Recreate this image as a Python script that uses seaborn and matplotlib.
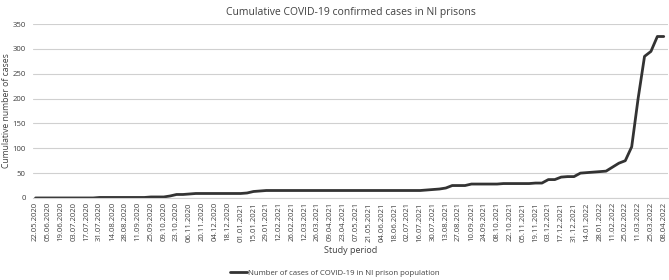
import numpy as np
import matplotlib
matplotlib.use('Agg')
import matplotlib.pyplot as plt
import pandas as pd
import seaborn as sns

# fortnightly tick labels on the x axis
tick_labels = [
    '22.05.2020', '05.06.2020', '19.06.2020', '03.07.2020', '17.07.2020',
    '31.07.2020', '14.08.2020', '28.08.2020', '11.09.2020', '25.09.2020',
    '09.10.2020', '23.10.2020', '06.11.2020', '20.11.2020', '04.12.2020',
    '18.12.2020', '01.01.2021', '15.01.2021', '29.01.2021', '12.02.2021',
    '26.02.2021', '12.03.2021', '26.03.2021', '09.04.2021', '23.04.2021',
    '07.05.2021', '21.05.2021', '04.06.2021', '18.06.2021', '02.07.2021',
    '16.07.2021', '30.07.2021', '13.08.2021', '27.08.2021', '10.09.2021',
    '24.09.2021', '08.10.2021', '22.10.2021', '05.11.2021', '19.11.2021',
    '03.12.2021', '17.12.2021', '31.12.2021', '14.01.2022', '28.01.2022',
    '11.02.2022', '25.02.2022', '11.03.2022', '25.03.2022', '08.04.2022',
]

# weekly cumulative cases
cases = [
    0, 0, 0, 0, 0, 0, 0, 0, 0, 0,
    1, 1, 1, 1, 1, 1, 1, 1, 2, 2,
    2, 4, 7, 7, 8, 9, 9, 9, 9, 9,
    9, 9, 9, 10, 13, 14, 15, 15, 15, 15,
    15, 15, 15, 15, 15, 15, 15, 15, 15, 15,
    15, 15, 15, 15, 15, 15, 15, 15, 15, 15,
    15, 16, 17, 18, 20, 25, 25, 25, 28, 28,
    28, 28, 28, 29, 29, 29, 29, 29, 30, 30,
    37, 37, 42, 43, 43, 50, 51, 52, 53, 54,
    62, 70, 75, 103, 200, 285, 295, 325, 325,
]

series_name = 'Number of cases of COVID-19 in NI prison population'

weeks = pd.date_range('2020-05-22', periods=len(cases), freq='7D')
df = pd.DataFrame({'week': weeks, 'cases': cases})
tick_dates = pd.to_datetime(tick_labels, format='%d.%m.%Y')

sns.set_theme(style='white')
plt.rcParams['font.family'] = ['Open Sans', 'DejaVu Sans']

fig = plt.figure(figsize=(6.69, 2.80), dpi=100)
ax = fig.add_axes([0.049, 0.293, 0.950, 0.621])

sns.lineplot(data=df, x='week', y='cases', ax=ax, color='#333333',
             linewidth=2.0, label=series_name, legend=False)

ax.set_ylim(0, 350)
ax.set_yticks(np.arange(0, 351, 50))
ax.set_xlim(weeks[0] - pd.Timedelta(days=3), weeks[-1] + pd.Timedelta(days=5))
ax.set_xticks(tick_dates)
ax.set_xticklabels(tick_labels, rotation=90, fontsize=5.6, color='#404040')
ax.tick_params(axis='y', labelsize=5.6, colors='#404040', length=0, pad=5)
ax.tick_params(axis='x', length=0, pad=3)
ax.grid(axis='y', color='#d0d0d0', linewidth=0.8)
ax.set_axisbelow(True)
for s in ['top', 'right', 'left']:
    ax.spines[s].set_visible(False)
ax.spines['bottom'].set_color('#d0d0d0')
ax.spines['bottom'].set_linewidth(0.8)

ax.set_xlabel('Study period', fontsize=6.5, color='#404040', labelpad=3)
ax.set_ylabel('Cumulative number of cases', fontsize=6.2, color='#404040')
ax.yaxis.set_label_coords(-0.035, 0.5)
ax.set_title('Cumulative COVID-19 confirmed cases in NI prisons', fontsize=7.5,
             color='#404040', pad=6.5)

handles, labels = ax.get_legend_handles_labels()
fig.legend(handles, labels, loc='lower center', bbox_to_anchor=(0.5, -0.015),
           frameon=False, fontsize=5.6, handlelength=2.2, handletextpad=0.1,
           labelcolor='#404040')

fig.savefig('out.png', dpi=100)
